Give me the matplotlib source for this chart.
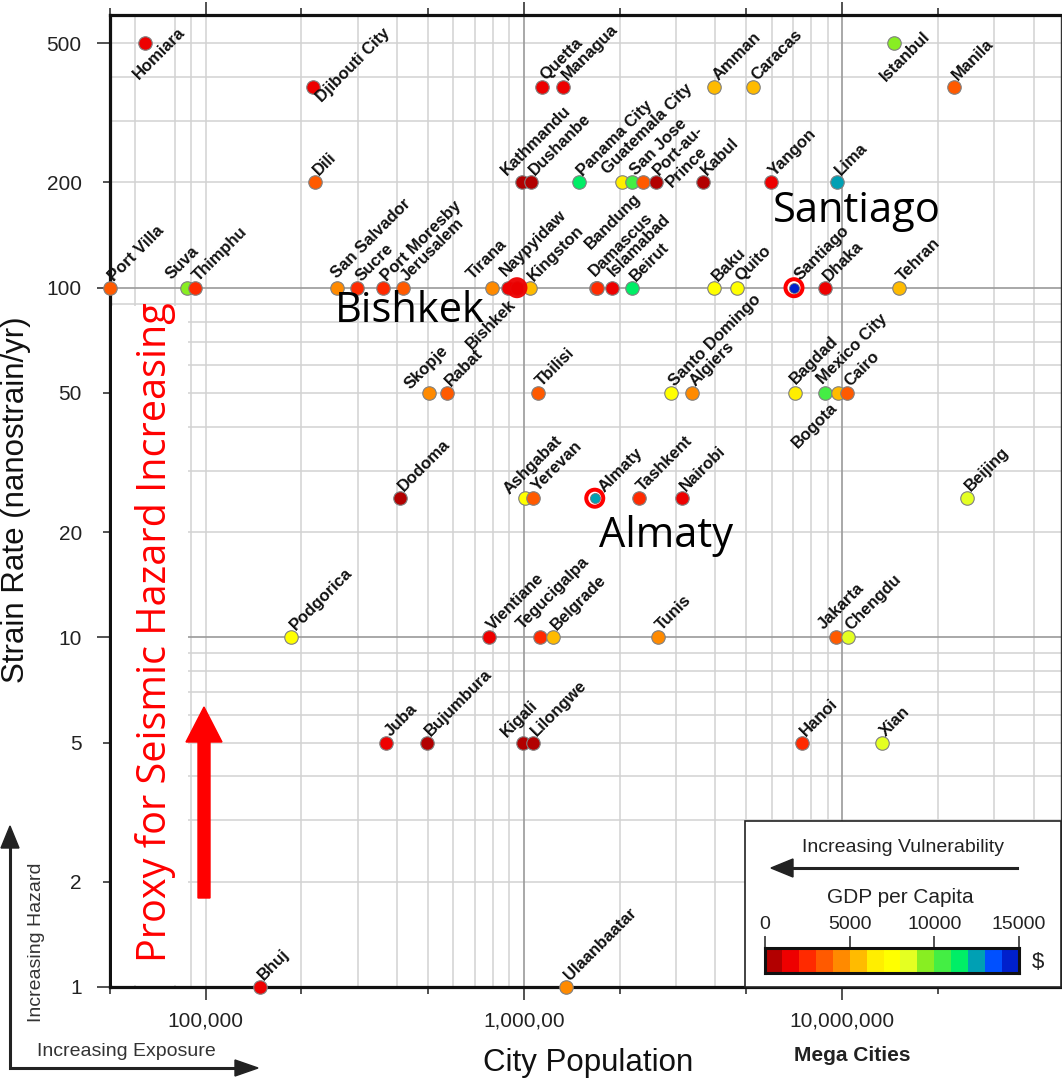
import numpy as np
import matplotlib
matplotlib.use('Agg')
import matplotlib.pyplot as plt
from matplotlib.colors import ListedColormap, BoundaryNorm
from matplotlib.patches import Rectangle, FancyArrow, Polygon
from matplotlib.lines import Line2D
from matplotlib.ticker import FixedLocator, FixedFormatter, NullFormatter

# ---------------- data ----------------
cities = ['Homiara', 'Istanbul',
          'Djibouti City', 'Quetta', 'Managua', 'Amman', 'Caracas', 'Manila',
          'Dili', 'Kathmandu', 'Dushanbe', 'Panama City', 'Guatemala City', 'San Jose', '',
          'Port-au-Prince', 'Kabul', 'Yangon', 'Lima',
          'Port Villa', 'Suva', 'Thimphu', 'San Salvador', 'Sucre', 'Port Moresby', 'Jerusalem',
          'Tirana', 'Naypyidaw', 'Bishkek', 'Kingston', 'Bandung', 'Damascus', 'Islamabad',
          'Beirut', 'Baku', 'Quito', 'Santiago', 'Dhaka', 'Tehran',
          'Skopje', 'Rabat', 'Tbilisi', 'Santo Domingo', 'Algiers', 'Bagdad', 'Mexico City',
          'Bogota', 'Cairo',
          'Dodoma', 'Ashgabat', 'Yerevan', 'Almaty', 'Tashkent', 'Nairobi', 'Beijing',
          'Podgorica', 'Vientiane', 'Tegucigalpa', 'Belgrade', 'Tunis', 'Jakarta', 'Chengdu',
          'Juba', 'Bujumbura', 'Kigali', 'Lilongwe', 'Hanoi', 'Xian',
          'Bhuj', 'Ulaanbaatar']

population = [64500, 14600000,
              217000, 1140000, 1330000, 3960000, 5260000, 22500000,
              220000, 984000, 1050000, 1490000, 2030000, 2180000, 2370000,
              2600000, 3660000, 5970000, 9660000,
              50000, 87500, 92500, 258000, 299000, 360000, 416000,
              793000, 891000, 951000, 1045000, 1680000, 1700000, 1890000,
              2190000, 3960000, 4670000, 7060000, 8850000, 15100000,
              505000, 574000, 1110000, 2890000, 3370000, 7130000, 8850000,
              9730000, 10350000,
              408000, 1010000, 1070000, 1670000, 2300000, 3130000, 24700000,
              186000, 778000, 1120000, 1230000, 2630000, 9550000, 10400000,
              370000, 495000, 991000, 1070000, 7480000, 13300000,
              148000, 1360000]

strain_rate = [500, 500,
               375, 375, 375, 375, 375, 375,
               200, 200, 200, 200, 200, 200, 200,
               200, 200, 200, 200,
               100, 100, 100, 100, 100, 100, 100,
               100, 100, 100, 100, 100, 100, 100,
               100, 100, 100, 100, 100, 100,
               50, 50, 50, 50, 50, 50, 50,
               50, 50,
               25, 25, 25, 25, 25, 25, 25,
               10, 10, 10, 10, 10, 10, 10,
               5, 5, 5, 5, 5, 5,
               1, 1]

gdp_per_capita = [1500, 9500,
                  1500, 1500, 1500, 5500, 5500, 3500,
                  3500, 500, 500, 11500, 6500, 10500, 3500,
                  500, 500, 1500, 12500,
                  3500, 9500, 2500, 4500, 2500, 2500, 3500,
                  4500, 1500, 500, 5500, 2500, 2500, 1500,
                  11500, 7500, 7500, 14500, 1500, 5500,
                  4500, 3500, 3500, 7500, 4500, 6500, 10500,
                  5500, 3500,
                  500, 7500, 3500, 12500, 2500, 1500, 8500,
                  7500, 1500, 2500, 5500, 4500, 3500, 8500,
                  1500, 500, 500, 500, 2500, 8500,
                  1500, 4500]

highlight_cities = ['Bishkek', 'Almaty', 'Santiago']

x_major_ticks = [1e5, 1e6, 1e7]
x_major_labels = ['100,000', '1,000,00', '10,000,000']
x_minor_ticks = [5e4, 2e5, 5e5, 2e6, 5e6, 2e7]
y_major_ticks = [1, 10, 100, 500]
y_major_labels = ['1', '10', '100', '500']
y_minor_ticks = [2, 5, 20, 50, 200]
y_minor_labels = ['2', '5', '20', '50', '200']

x_grid_light = [6e4, 8e4, 9e4, 1e5, 2e5, 3e5, 4e5, 5e5, 6e5, 7e5, 8e5, 9e5,
                2e6, 3e6, 4e6, 5e6, 6e6, 7e6, 8e6, 9e6, 2e7, 3e7, 4e7]
x_grid_dark = [1e6, 1e7]
y_grid_light = [2, 3, 4, 5, 6, 7, 8, 9, 20, 30, 40, 50, 60, 70, 80, 90, 200, 300, 400, 500]
y_grid_dark = [10, 100]

gdp_colors = ['#b20000', '#ee0000', '#ff2a00', '#ff5a00', '#ff8a00', '#ffbb00', '#ffee00',
              '#ffff00', '#e4ff22', '#88ee22', '#44ee44', '#00ee66', '#00a0b4', '#0050ff', '#0020cc']
gdp_bounds = list(range(0, 16000, 1000))
cbar_ticks = [0, 5000, 10000, 15000]
cbar_labels = ['0', '5000', '10000', '15000']

# ---------------- layout helpers ----------------
W, H = 1062, 1080
PX = 0.72  # points per pixel at dpi 100


def fx(x):
    return x / W


def fy(y):
    return 1 - y / H


# label anchor (baseline start or end) offsets in pixels relative to the dot
label_layout = {
    'Homiara': ('left', -6.5, 36.7),
    'Istanbul': ('left', -8.8, 38.4),
    'Djibouti City': ('left', 9, 15.7),
    'Bishkek': ('right', 0, 17.5),
    'Bogota': ('right', 0, 15.5),
    'Kathmandu': ('left', -15, -6),
    'Guatemala City': ('left', -14, -8),
    'Tirana': ('left', -19, -8),
    'Naypyidaw': ('left', -2, -11),
    'Bandung': ('left', -5, -38),
    'Damascus': ('left', -2, -11),
    'Islamabad': ('left', 2, -11),
    'Skopje': ('left', -19, -3),
    'Ashgabat': ('left', -16, -3),
    'Tegucigalpa': ('left', -17, -7),
    'Jakarta': ('left', -12, -7),
    'Kigali': ('left', -16, -5),
    'Suva': ('left', -16, -8),
    'Mexico City': ('left', -2, -8),
    'Bagdad': ('left', 0, -8),
    'San Salvador': ('left', 0, -9),
    'Almaty': ('left', 10, -5),
    'Santiago': ('left', 6, -7),
}
default_layout = ('left', 4, -6)
# labels drawn on two lines: (text, dx, dy) per line
label_lines = {'Port-au-Prince': [('Port-au-', 2.5, -6.5), ('Prince', 15.7, 5.3)]}

cmap = ListedColormap(gdp_colors)
norm = BoundaryNorm(gdp_bounds, cmap.N)

LBL_FONT = ['Liberation Sans', 'DejaVu Sans']
BIG_FONT = ['Open Sans', 'DejaVu Sans']

fig = plt.figure(figsize=(W / 100, H / 100), dpi=100)
ax = fig.add_axes([fx(109.9), fy(987), (1061 - 109.9) / W, (987 - 15) / H])
ax.set_xscale('log')
ax.set_yscale('log')
ax.set_xlim(5e4, 10 ** (5 + (1061 - 205.7) / 318.2))
ax.set_ylim(1, 10 ** (np.log10(500) + (43.3 - 15) / 349.6))

for v in x_grid_light:
    ax.axvline(v, color='#d2d2d2', lw=1.1, zorder=0.5)
for v in x_grid_dark:
    ax.axvline(v, color='#9a9a9a', lw=1.2, zorder=0.6)
for v in y_grid_light:
    ax.axhline(v, color='#d2d2d2', lw=1.1, zorder=0.5)
for v in y_grid_dark:
    ax.axhline(v, color='#9a9a9a', lw=1.2, zorder=0.6)

# ticks
ax.xaxis.set_major_locator(FixedLocator(x_major_ticks))
ax.xaxis.set_major_formatter(FixedFormatter(x_major_labels))
ax.xaxis.set_minor_locator(FixedLocator(x_minor_ticks))
ax.xaxis.set_minor_formatter(NullFormatter())
ax.yaxis.set_major_locator(FixedLocator(y_major_ticks))
ax.yaxis.set_major_formatter(FixedFormatter(y_major_labels))
ax.yaxis.set_minor_locator(FixedLocator(y_minor_ticks))
ax.yaxis.set_minor_formatter(FixedFormatter(y_minor_labels))

ax.tick_params(axis='x', which='major', direction='out', top=True, bottom=True,
               length=13 * PX, width=1.1, color='#222222', pad=8.5,
               labelsize=15, labelcolor='#222222')
ax.tick_params(axis='x', which='minor', direction='out', top=True, bottom=True,
               length=7 * PX, width=1.1, color='#222222')
ax.tick_params(axis='y', which='major', direction='out', left=True, right=False,
               length=13 * PX, width=1.1, color='#222222', pad=10.9,
               labelsize=15, labelcolor='#222222')
ax.tick_params(axis='y', which='minor', direction='out', left=True, right=False,
               length=7 * PX, width=1.1, color='#222222', pad=15.2,
               labelsize=15, labelcolor='#222222')
for lab in ax.get_xticklabels() + ax.get_yticklabels() + ax.get_yticklabels(minor=True):
    lab.set_family(LBL_FONT)

for side in ['left', 'top', 'bottom']:
    ax.spines[side].set_linewidth(2.3)
    ax.spines[side].set_color('#111111')
ax.spines['right'].set_linewidth(1.0)
ax.spines['right'].set_color('#333333')

# points
colors = [cmap(norm(g)) for g in gdp_per_capita]
DOT = (13.5 * PX) ** 2
for name, x, y, c in zip(cities, population, strain_rate, colors):
    if name in ('Almaty', 'Santiago'):
        ax.scatter([x], [y], s=(21 * PX) ** 2, color='#ff0000', edgecolors='none',
                   zorder=5, clip_on=False)
        ax.scatter([x], [y], s=(13 * PX) ** 2, color='white', edgecolors='none',
                   zorder=5.1, clip_on=False)
        ax.scatter([x], [y], s=(10 * PX) ** 2, color=c, edgecolors='#777777',
                   linewidths=0.6, zorder=5.2, clip_on=False)
    else:
        ax.scatter([x], [y], s=DOT, color=c, edgecolors='#808080', linewidths=0.8,
                   zorder=5, clip_on=False)
    if name == 'Bishkek':
        ax.scatter([x], [y], s=(21 * PX) ** 2, color='#ee0000', edgecolors='none',
                   zorder=5.3, alpha=0.95, clip_on=False)

# city labels
for name, x, y in zip(cities, population, strain_rate):
    if not name:
        continue
    if name in label_lines:
        pieces = [('left',) + p for p in label_lines[name]]
    else:
        ha, dx, dy = label_layout.get(name, default_layout)
        pieces = [(ha, name, dx, dy)]
    for ha, txt, dx, dy in pieces:
        ax.annotate(txt, (x, y), xytext=(dx * PX, -dy * PX), textcoords='offset points',
                    rotation=45, rotation_mode='anchor', ha=ha, va='baseline',
                    fontsize=12, fontweight='bold', family=LBL_FONT, color='#111111',
                    zorder=6, annotation_clip=False)

# axis titles
fig.text(fx(16), fy(500), 'Strain Rate (nanostrain/yr)', rotation=90, ha='center',
         va='center', fontsize=22.5, family=LBL_FONT, color='#111111')
fig.text(fx(588), fy(1071), 'City Population', ha='center', va='baseline',
         fontsize=22.5, family=LBL_FONT, color='#111111')
fig.text(fx(852), fy(1061), 'Mega Cities', ha='center', va='baseline',
         fontsize=15, fontweight='bold', family=LBL_FONT, color='#222222')

# big annotations
for txt, px_, py_ in [('Santiago', 773, 222), ('Bishkek', 335, 322), ('Almaty', 599, 547)]:
    fig.text(fx(px_), fy(py_), txt, ha='left', va='baseline', fontsize=30,
             family=BIG_FONT, color='black', zorder=7)

# white area behind proxy text
fig.patches.append(Rectangle((fx(112), fy(985)), (188 - 112) / W, (985 - 306) / H,
                             transform=fig.transFigure, facecolor='white',
                             edgecolor='none', zorder=1))
fig.text(fx(166), fy(962), 'Proxy for Seismic Hazard Increasing', rotation=90,
         rotation_mode='anchor', ha='left', va='baseline', fontsize=28.5,
         family=BIG_FONT, color='#ff0000', zorder=3)
fig.patches.append(FancyArrow(fx(204), fy(898), 0, (898 - 707) / H, width=12 / W,
                              head_width=36 / W, head_length=35 / H,
                              length_includes_head=True, transform=fig.transFigure,
                              color='#ff0000', zorder=2))

# exposure / hazard arrows
fig.add_artist(Line2D([fx(10), fx(10), fx(238)], [fy(846), fy(1068), fy(1068)],
                      transform=fig.transFigure, color='#222222', lw=2.2,
                      solid_joinstyle='miter'))
fig.add_artist(Polygon([[fx(1), fy(848)], [fx(10), fy(826)], [fx(19), fy(848)]],
                       closed=True, transform=fig.transFigure, color='#222222'))
fig.add_artist(Polygon([[fx(235), fy(1060)], [fx(258), fy(1068)], [fx(235), fy(1076)]],
                       closed=True, transform=fig.transFigure, color='#222222'))
fig.text(fx(41), fy(1022), 'Increasing Hazard', rotation=90, rotation_mode='anchor',
         ha='left', va='baseline', fontsize=14, family=LBL_FONT, color='#333333')
fig.text(fx(37), fy(1056), 'Increasing Exposure', ha='left', va='baseline',
         fontsize=14, family=LBL_FONT, color='#333333')

# legend box
fig.patches.append(Rectangle((fx(745), fy(987)), (1061 - 745) / W, (987 - 821) / H,
                             transform=fig.transFigure, facecolor='white',
                             edgecolor='#222222', lw=1.2, zorder=2))
fig.text(fx(903), fy(852), 'Increasing Vulnerability', ha='center', va='baseline',
         fontsize=14, family=LBL_FONT, color='#222222', zorder=3)
fig.add_artist(Line2D([fx(1017), fx(788)], [fy(868), fy(868)], transform=fig.transFigure,
                      color='#222222', lw=2.2, zorder=3))
fig.add_artist(Polygon([[fx(793), fy(859)], [fx(771), fy(868)], [fx(793), fy(877)]],
                       closed=True, transform=fig.transFigure, color='#222222', zorder=3))
fig.text(fx(900), fy(903), 'GDP per Capita', ha='center', va='baseline',
         fontsize=15, family=LBL_FONT, color='#222222', zorder=3)

cax = fig.add_axes([fx(765), fy(973), (1019 - 765) / W, (973 - 948) / H], zorder=4)
cax.pcolormesh(np.array(gdp_bounds), [0, 1], np.array([gdp_bounds[:-1]]) + 500,
               cmap=cmap, norm=norm)
cax.set_xlim(gdp_bounds[0], gdp_bounds[-1])
cax.set_ylim(0, 1)
cax.set_yticks([])
cax.set_xticks(cbar_ticks)
cax.set_xticklabels(cbar_labels)
cax.tick_params(axis='x', top=True, bottom=False, labeltop=True, labelbottom=False,
                direction='out', length=12 * PX, width=1.1, color='#222222', pad=2,
                labelsize=14, labelcolor='#222222')
for lab in cax.get_xticklabels():
    lab.set_family(LBL_FONT)
for s in cax.spines.values():
    s.set_linewidth(2.2)
    s.set_color('#111111')
fig.text(fx(1038), fy(963), '$', ha='center', va='center', fontsize=16,
         family=LBL_FONT, color='#222222', zorder=5)

fig.savefig('out.png', dpi=100)
